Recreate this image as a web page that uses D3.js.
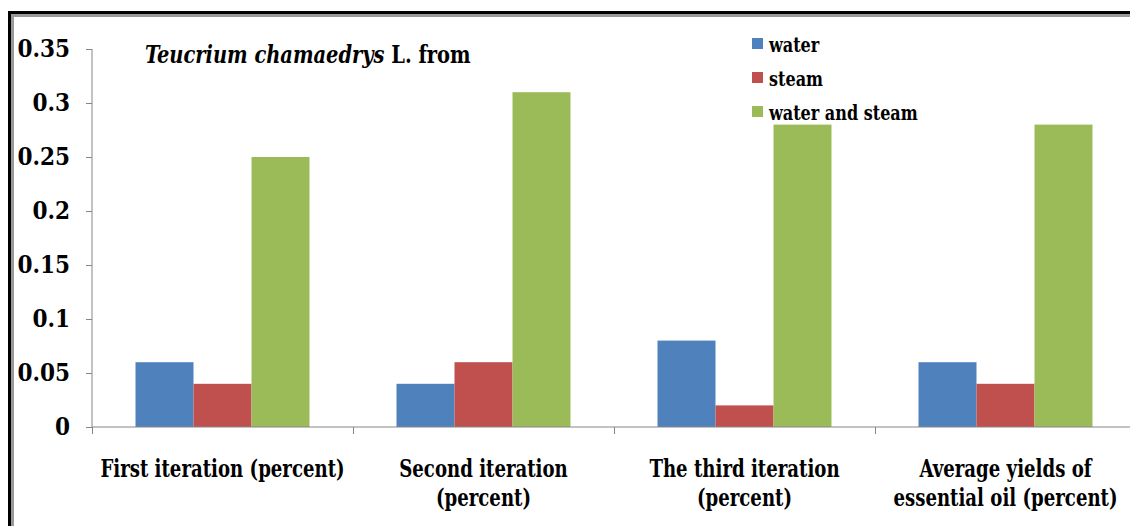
<!DOCTYPE html>
<html>
  <head>
    <meta charset="utf-8">
    <title>bar chart</title>
    <style>
      body{margin: 0; background-color: white;}
    </style>
  </head>
  <body>
<svg width="1130" height="526" font-family="'DejaVu Serif Condensed', 'DejaVu Serif'" font-stretch="condensed" font-weight="bold"></svg>
<script src="https://d3js.org/d3.v7.min.js"></script>
<script>

var categories = [["First iteration (percent)"], ["Second iteration", "(percent)"], ["The third iteration", "(percent)"], ["Average yields of", "essential oil (percent)"]];
var series = ["water", "steam", "water and steam"];
var water = [0.06, 0.04, 0.08, 0.06];
var steam = [0.04, 0.06, 0.02, 0.04];
var waterSteam = [0.25, 0.31, 0.28, 0.28];
var yTicks = [0, 0.05, 0.1, 0.15, 0.2, 0.25, 0.3, 0.35];
var yTickLabels = ["0", "0.05", "0.1", "0.15", "0.2", "0.25", "0.3", "0.35"];
var colors = ["#4f81bd", "#c0504d", "#9bbb59"];

var values = [water, steam, waterSteam];
var data = categories.map(function(c, i) {
  return {label: c, vals: series.map(function(s, j) { return {key: s, value: values[j][i]}; })};
});

var svg = d3.select("svg"),
    margin = {top: 49, left: 92},
    height = 427 - margin.top,
    width = 4 * 261;

// frame of the figure
svg.append("path").attr("d", "M9.5,526V12.5H1130").attr("fill", "none").attr("stroke", "#000").attr("stroke-width", 3);
svg.append("path").attr("d", "M12.5,526V15.5H1130").attr("fill", "none").attr("stroke", "#999").attr("stroke-width", 3);

var g = svg.append("g").attr("transform", "translate(" + margin.left + "," + margin.top + ")");

var x0 = d3.scaleBand()
    .domain(d3.range(categories.length))
    .range([0, width]);

var x1 = d3.scaleBand()
    .domain(series)
    .range([0, x0.bandwidth()])
    .paddingOuter(0.75);

var y = d3.scaleLinear()
    .domain([0, 0.35])
    .range([height, 0]);

// y axis
var yAxis = g.append("g")
    .call(d3.axisLeft(y).tickValues(yTicks).tickSize(6).tickPadding(16)
      .tickFormat(function(d, i) { return yTickLabels[i]; }));
yAxis.attr("font-family", null);
yAxis.select(".domain").attr("stroke", "#868686").attr("d", "M0,0V" + height);
yAxis.selectAll(".tick line").attr("stroke", "#868686");
yAxis.selectAll(".tick text")
    .attr("font-size", 24)
    .attr("fill", "#000");

// bars
g.selectAll(".grp")
  .data(data)
  .enter().append("g")
    .attr("transform", function(d, i) { return "translate(" + x0(i) + ",0)"; })
  .selectAll("rect")
  .data(function(d) { return d.vals; })
  .enter().append("rect")
    .attr("x", function(d) { return x1(d.key); })
    .attr("y", function(d) { return y(d.value); })
    .attr("width", x1.bandwidth())
    .attr("height", function(d) { return height - y(d.value); })
    .attr("fill", function(d, i) { return colors[i]; });

// x axis
var xAxis = g.append("g")
    .attr("transform", "translate(0," + height + ")")
    .call(d3.axisBottom(d3.scaleLinear().domain([0, 4]).range([0, width]))
      .tickValues([0, 1, 2, 3, 4]).tickSize(7).tickFormat(""));
xAxis.select(".domain").attr("stroke", "#868686").attr("d", "M0,0H" + width);
xAxis.selectAll(".tick line").attr("stroke", "#868686");

var labels = g.selectAll(".xlab")
  .data(data)
  .enter().append("g")
    .attr("transform", function(d, i) { return "translate(" + (x0(i) + x0.bandwidth() / 2) + "," + (height + 50) + ")"; });
labels.selectAll("text")
  .data(function(d) { return d.label; })
  .enter().append("text")
    .attr("text-anchor", "middle")
    .attr("font-size", 24)
    .attr("transform", function(d, i) { return "translate(0," + (i * 29) + ") scale(0.84,1)"; })
    .text(function(d) { return d; });

// title
var title = svg.append("text")
    .attr("font-size", 24)
    .attr("transform", "translate(145,63) scale(0.9,1)");
title.append("tspan").attr("font-style", "italic").text("Teucrium chamaedrys");
title.append("tspan").text(" L. from");

// legend
var legend = svg.selectAll(".legend")
  .data(series)
  .enter().append("g")
    .attr("transform", function(d, i) { return "translate(752," + (38 + i * 34) + ")"; });
legend.append("rect")
    .attr("width", 11)
    .attr("height", 11)
    .attr("fill", function(d, i) { return colors[i]; });
legend.append("text")
    .attr("font-size", 21)
    .attr("transform", "translate(17,14) scale(0.85,1)")
    .text(function(d) { return d; });

</script>
  </body>
</html>
